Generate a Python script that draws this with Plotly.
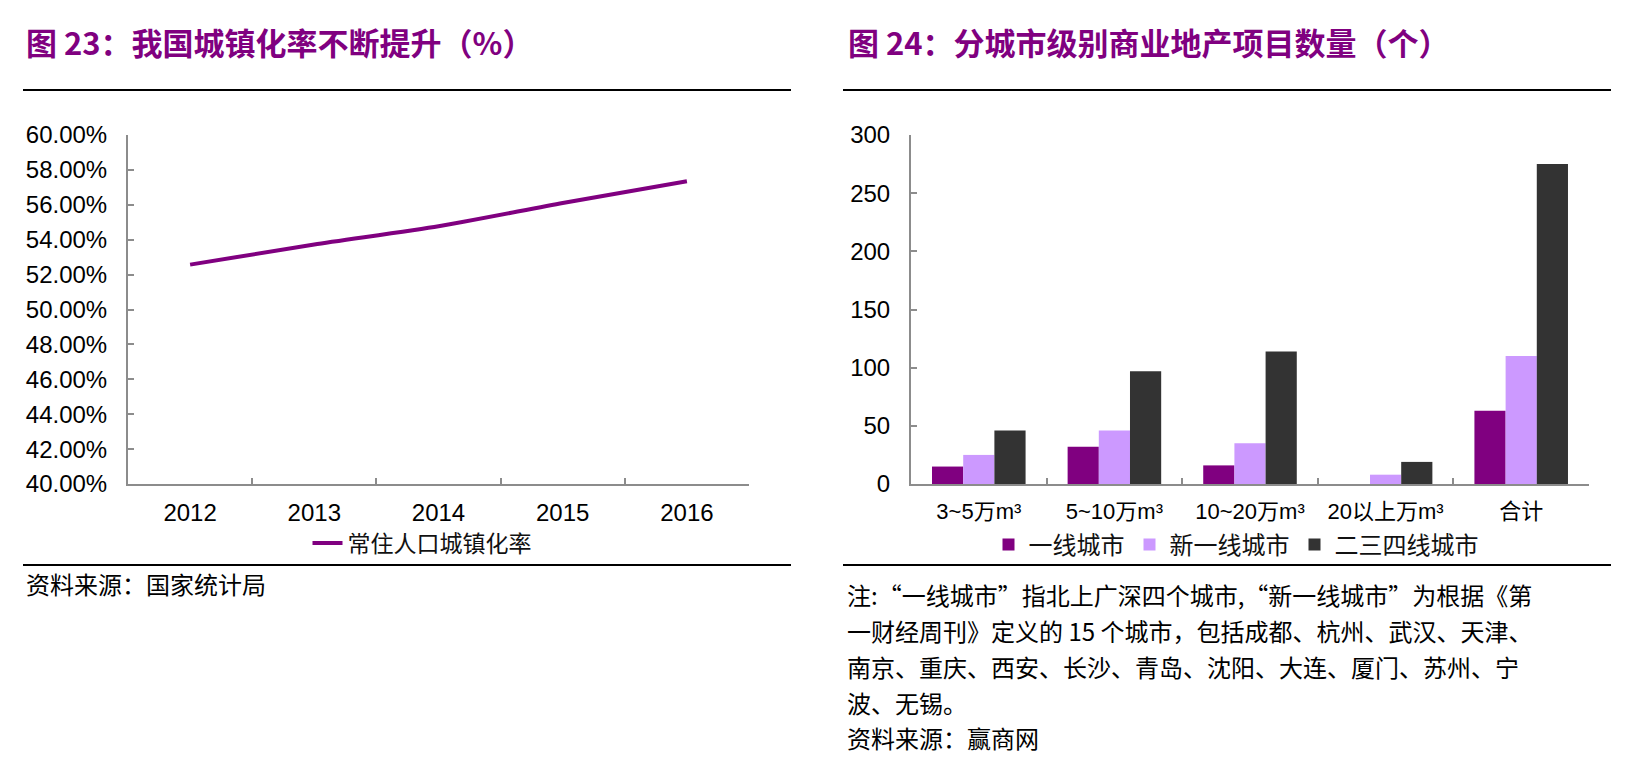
import plotly.graph_objects as go

# ---------------- data ----------------
years = ["2012", "2013", "2014", "2015", "2016"]
urban_rate = [0.5257, 0.5373, 0.5477, 0.5610, 0.5735]
line_name = "常住人口城镇化率"

size_cats = ["3~5万m³", "5~10万m³", "10~20万m³", "20以上万m³", "合计"]
tier1 = [15, 32, 16, 0, 63]
new_tier1 = [25, 46, 35, 8, 110]
tier234 = [46, 97, 114, 19, 275]
bar_names = ["一线城市", "新一线城市", "二三四线城市"]

title_left = "图 23：我国城镇化率不断提升（%）"
title_right = "图 24：分城市级别商业地产项目数量（个）"
source_left = "资料来源：国家统计局"
note_lines = [
    "注:“一线城市”指北上广深四个城市,“新一线城市”为根据《第",
    "一财经周刊》定义的 15 个城市，包括成都、杭州、武汉、天津、",
    "南京、重庆、西安、长沙、青岛、沈阳、大连、厦门、苏州、宁",
    "波、无锡。",
]
source_right = "资料来源：赢商网"

# ---------------- style ----------------
W, H = 1649, 775
OFF = 8  # page body margin offset
PURPLE = "#800080"
LAVENDER = "#CC99FF"
DARK = "#333333"
AXIS = "#8C8C8C"
CJK = "Noto Sans CJK SC"
NUM = "Liberation Sans, Arial, Noto Sans CJK SC"


def px(x):
    return (x - OFF) / W


def py(y):
    return 1 - (y - OFF) / H


fig = go.Figure()

fig.add_trace(go.Scatter(
    x=years, y=urban_rate, mode="lines", name=line_name,
    line=dict(color=PURPLE, width=4, shape="spline", smoothing=0.6),
    xaxis="x", yaxis="y", legend="legend",
))

for name, vals, col in zip(bar_names, [tier1, new_tier1, tier234], [PURPLE, LAVENDER, DARK]):
    fig.add_trace(go.Bar(
        x=size_cats, y=vals, name=name, marker=dict(color=col, line=dict(width=0)),
        xaxis="x2", yaxis="y2", legend="legend2",
    ))

axis_common = dict(
    showline=True, linecolor=AXIS, linewidth=2,
    ticks="inside", ticklen=6, tickwidth=2, tickcolor=AXIS,
    showgrid=False, zeroline=False, automargin=False,
)
numfont = dict(family=NUM, size=24, color="#000000")

fig.update_layout(
    width=W, height=H,
    margin=dict(l=0, r=0, t=0, b=0, autoexpand=False),
    paper_bgcolor="white", plot_bgcolor="white",
    barmode="group", bargap=0.31, bargroupgap=0,
    showlegend=True,
    xaxis=dict(domain=[px(128), px(749)], anchor="y", type="category",
               tickson="boundaries", range=[-0.5, 4.5], ticklabelstandoff=6,
               tickfont=numfont, **axis_common),
    yaxis=dict(domain=[py(484), py(135)], anchor="x", range=[0.40, 0.60],
               dtick=0.02, tickformat=".2%", ticklabelstandoff=14,
               tickfont=numfont, **axis_common),
    xaxis2=dict(domain=[px(911), px(1589)], anchor="y2", type="category",
                tickson="boundaries", range=[-0.5, 4.5], ticklabelstandoff=7,
                tickfont=dict(family=NUM, size=22, color="#000000"), **axis_common),
    yaxis2=dict(domain=[py(484), py(135)], anchor="x2", range=[0, 300],
                dtick=50, ticklabelstandoff=14, tickfont=numfont, **axis_common),
    legend=dict(orientation="h", x=px(422), xanchor="center", y=py(543),
                yanchor="middle", font=dict(family=CJK, size=23, color="#111111"),
                bgcolor="rgba(0,0,0,0)", itemwidth=30),
    legend2=dict(orientation="h", x=px(1236), xanchor="center", y=py(545),
                 yanchor="middle", font=dict(family=CJK, size=24, color="#111111"),
                 bgcolor="rgba(0,0,0,0)", itemwidth=30),
)

shapes = []
for x0, x1 in [(23, 791), (843, 1611)]:
    for yy in (90, 565):
        shapes.append(dict(type="line", xref="paper", yref="paper",
                           x0=px(x0), x1=px(x1), y0=py(yy), y1=py(yy),
                           line=dict(color="#000000", width=2)))
fig.update_layout(shapes=shapes)

ann = []
ann.append(dict(text="<b>" + title_left + "</b>", x=px(24), y=py(42), xanchor="left",
                yanchor="middle", font=dict(family=CJK, size=31, color=PURPLE)))
ann.append(dict(text="<b>" + title_right + "</b>", x=px(846), y=py(42), xanchor="left",
                yanchor="middle", font=dict(family=CJK, size=31, color=PURPLE)))
ann.append(dict(text=source_left, x=px(24), y=py(583), xanchor="left", yanchor="middle",
                font=dict(family=CJK, size=24, color="#000000")))
for i, line in enumerate(note_lines):
    ann.append(dict(text=line, x=px(845), y=py(594 + i * 36), xanchor="left",
                    yanchor="middle", font=dict(family=CJK, size=24, color="#000000")))
ann.append(dict(text=source_right, x=px(845), y=py(737), xanchor="left", yanchor="middle",
                font=dict(family=CJK, size=24, color="#000000")))
for a in ann:
    a.update(xref="paper", yref="paper", showarrow=False)
fig.update_layout(annotations=ann)

fig.write_html("out.html")
